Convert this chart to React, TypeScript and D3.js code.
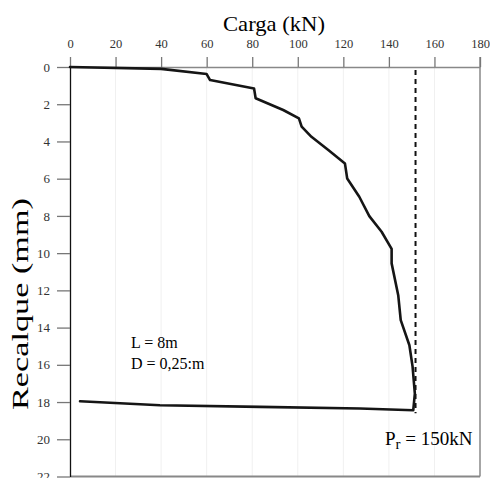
import React, { useRef, useEffect } from "react";
import * as d3 from "d3";

// curva carga x recalque
const carga = [0, 40, 60, 61.5, 80.8, 81.5, 93.6, 100.5, 101.7, 106, 113.4, 120.7, 121.7, 127, 131.4, 136.8, 141.2, 141.2, 144.1, 145.2, 149, 150.4, 151.4, 150.7, 127.3, 83.4, 39.5, 4.4];
const recalque = [0, 0.1, 0.38, 0.7, 1.15, 1.68, 2.31, 2.76, 3.2, 3.75, 4.46, 5.18, 5.99, 6.97, 8.01, 8.85, 9.77, 10.55, 12.26, 13.6, 14.95, 16.1, 17.55, 18.44, 18.35, 18.26, 18.17, 17.96];
const cargaTicks = [0, 20, 40, 60, 80, 100, 120, 140, 160, 180];
const recalqueTicks = [0, 2, 4, 6, 8, 10, 12, 14, 16, 18, 20, 22];
const cargaRuptura = 151.7;

const font = "'Liberation Serif', 'Times New Roman', serif";

const App = () => {
  const ref = useRef<SVGSVGElement>(null);

  useEffect(() => {
    const svg = d3.select(ref.current);
    svg.selectAll("*").remove();

    const x = d3.scaleLinear().domain([0, 180]).range([70, 480]);
    const y = d3.scaleLinear().domain([0, 22]).range([67, 476.5]);

    // grade vertical bem clara
    svg.append("g")
      .selectAll("line")
      .data(cargaTicks.slice(1, -1))
      .join("line")
      .attr("x1", d => x(d)).attr("x2", d => x(d))
      .attr("y1", y(0)).attr("y2", y(22))
      .attr("stroke", "#f0f0f0")
      .attr("stroke-width", 1);

    // bordas
    svg.append("line")
      .attr("x1", x(0)).attr("x2", x(180)).attr("y1", y(22)).attr("y2", y(22))
      .attr("stroke", "#888").attr("stroke-width", 2);
    svg.append("line")
      .attr("x1", x(180)).attr("x2", x(180)).attr("y1", 57).attr("y2", y(22))
      .attr("stroke", "#888").attr("stroke-width", 1.5);

    const top = svg.append("g")
      .attr("transform", `translate(0,${y(0)})`)
      .call(d3.axisTop(x).tickValues(cargaTicks).tickSize(10).tickSizeOuter(0).tickFormat(d3.format("d")));
    top.select(".domain").attr("stroke", "#888").attr("stroke-width", 1.5);
    top.selectAll(".tick line").attr("stroke", "#777").attr("stroke-width", 1.3);
    top.selectAll(".tick text")
      .attr("y", -19.5)
      .attr("fill", "#333")
      .style("font-family", font)
      .style("font-size", "12.5px");

    const left = svg.append("g")
      .attr("transform", `translate(${x(0)},0)`)
      .call(d3.axisLeft(y).tickValues(recalqueTicks).tickSize(13).tickSizeOuter(0).tickFormat(d3.format("d")));
    left.select(".domain").attr("stroke", "#111").attr("stroke-width", 1.3);
    left.selectAll(".tick line").attr("stroke", "#777").attr("stroke-width", 1.3);
    left.selectAll(".tick text")
      .attr("x", -20)
      .attr("fill", "#333")
      .style("font-family", font)
      .style("font-size", "13px");

    // linha da carga de ruptura
    svg.append("line")
      .attr("x1", x(cargaRuptura)).attr("x2", x(cargaRuptura))
      .attr("y1", y(0) + 3).attr("y2", y(18.6))
      .attr("stroke", "#111")
      .attr("stroke-width", 2)
      .attr("stroke-dasharray", "5,4");

    const pts = carga.map((c, i) => [c, recalque[i]] as [number, number]);
    const line = d3.line<[number, number]>().x(d => x(d[0])).y(d => y(d[1]));
    svg.append("path")
      .attr("d", line(pts))
      .attr("fill", "none")
      .attr("stroke", "#151515")
      .attr("stroke-width", 2.6)
      .attr("stroke-linejoin", "round")
      .attr("stroke-linecap", "round");

    // textos
    svg.append("text")
      .attr("x", 274).attr("y", 31)
      .attr("text-anchor", "middle")
      .attr("textLength", 102)
      .attr("lengthAdjust", "spacingAndGlyphs")
      .style("font-family", font).style("font-size", "22px")
      .text("Carga (kN)");

    svg.append("text")
      .attr("transform", "translate(28,304) rotate(-90)")
      .attr("text-anchor", "middle")
      .attr("textLength", 212)
      .attr("lengthAdjust", "spacingAndGlyphs")
      .style("font-family", font).style("font-size", "23px")
      .text("Recalque (mm)");

    svg.append("text")
      .attr("x", 131).attr("y", 348)
      .style("font-family", font).style("font-size", "16px")
      .text("L = 8m");
    svg.append("text")
      .attr("x", 131).attr("y", 369)
      .style("font-family", font).style("font-size", "16px")
      .text("D = 0,25:m");

    const pr = svg.append("text")
      .attr("x", 385).attr("y", 445)
      .style("font-family", font).style("font-size", "19px");
    pr.append("tspan").text("P");
    pr.append("tspan").attr("dy", 4).style("font-size", "15px").text("r");
    pr.append("tspan").attr("dy", -4).text(" = 150kN");
  }, []);

  return (
    <svg ref={ref} width={490} height={478}
      style={{ position: "absolute", left: 0, top: 0, background: "#fff" }} />
  );
};

export default App;
